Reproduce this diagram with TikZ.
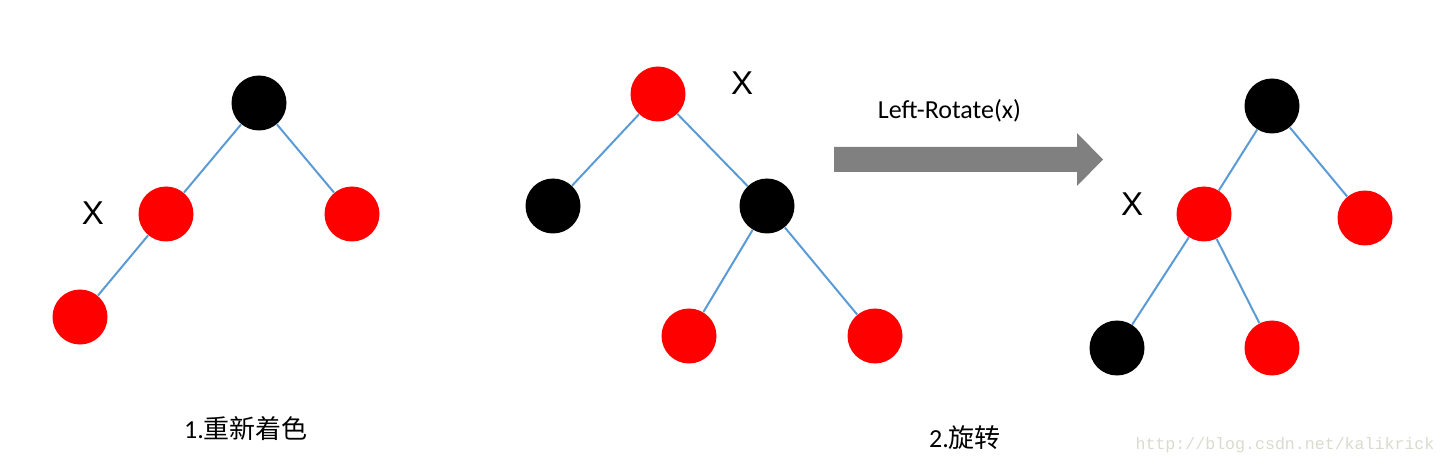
\documentclass[tikz,border=0pt]{standalone}
\usepackage{fontspec}
\setmainfont{Carlito}
\setsansfont{Liberation Sans}
\setmonofont{Liberation Mono}
\newfontfamily\cjk{Noto Sans CJK SC}
\usepackage{xcolor}
\definecolor{rbred}{RGB}{255,0,0}
\definecolor{edgeblue}{RGB}{91,155,213}
\definecolor{arrowgray}{RGB}{128,128,128}
\definecolor{markgray}{RGB}{218,218,208}

\begin{document}
\begin{tikzpicture}[
  x=0.5pt, y=-0.5pt,
  rnode/.style={circle, fill=rbred, minimum size=27.5pt, inner sep=0pt},
  bnode/.style={circle, fill=black, minimum size=27.5pt, inner sep=0pt},
  link/.style={draw=edgeblue, line width=1pt},
  xmark/.style={font=\sffamily\fontsize{16.5}{16.5}\selectfont},
  caption/.style={font=\fontsize{13}{13}\selectfont}
]
  \useasboundingbox (0,0) rectangle (1448,465);

  % tree 1: recolour
  \node[bnode] (a1) at (259,103) {};
  \node[rnode] (a2) at (166,214) {};
  \node[rnode] (a3) at (352,214) {};
  \node[rnode] (a4) at (80,317) {};
  \node[xmark] (ax) at (93,213) {X};
  \draw[link] (a1) -- (a2);
  \draw[link] (a1) -- (a3);
  \draw[link] (a2) -- (a4);

  % tree 2: before rotation
  \node[rnode] (b1) at (658,94) {};
  \node[bnode] (b2) at (553,206) {};
  \node[bnode] (b3) at (767,206) {};
  \node[rnode] (b4) at (689,336) {};
  \node[rnode] (b5) at (875,336) {};
  \node[xmark] (bx) at (742,83) {X};
  \draw[link] (b1) -- (b2);
  \draw[link] (b1) -- (b3);
  \draw[link] (b3) -- (b4);
  \draw[link] (b3) -- (b5);

  % rotation arrow
  \fill[arrowgray] (834,147) -- (1077,147) -- (1077,133) -- (1103,159.5)
    -- (1077,186) -- (1077,172) -- (834,172) -- cycle;
  \node[font=\fontsize{13}{13}\selectfont] (rotlbl) at (949.5,111) {Left-Rotate(x)};

  % tree 3: after rotation
  \node[bnode] (c1) at (1272,106) {};
  \node[rnode] (c2) at (1204,214) {};
  \node[rnode] (c3) at (1365,218) {};
  \node[bnode] (c4) at (1117,348) {};
  \node[rnode] (c5) at (1272,348) {};
  \node[xmark] (cx) at (1132,204) {X};
  \draw[link] (c1) -- (c2);
  \draw[link] (c1) -- (c3);
  \draw[link] (c2) -- (c4);
  \draw[link] (c2) -- (c5);

  % captions
  \node[caption] (cap1) at (246,429) {1.{\cjk 重新着色}};
  \node[caption] (cap2) at (965,438) {2.{\cjk 旋转}};
  \node[font=\ttfamily\fontsize{8.3}{8.3}\selectfont, text=markgray] (mark) at (1285,445) {http://blog.csdn.net/kalikrick};
\end{tikzpicture}
\end{document}
